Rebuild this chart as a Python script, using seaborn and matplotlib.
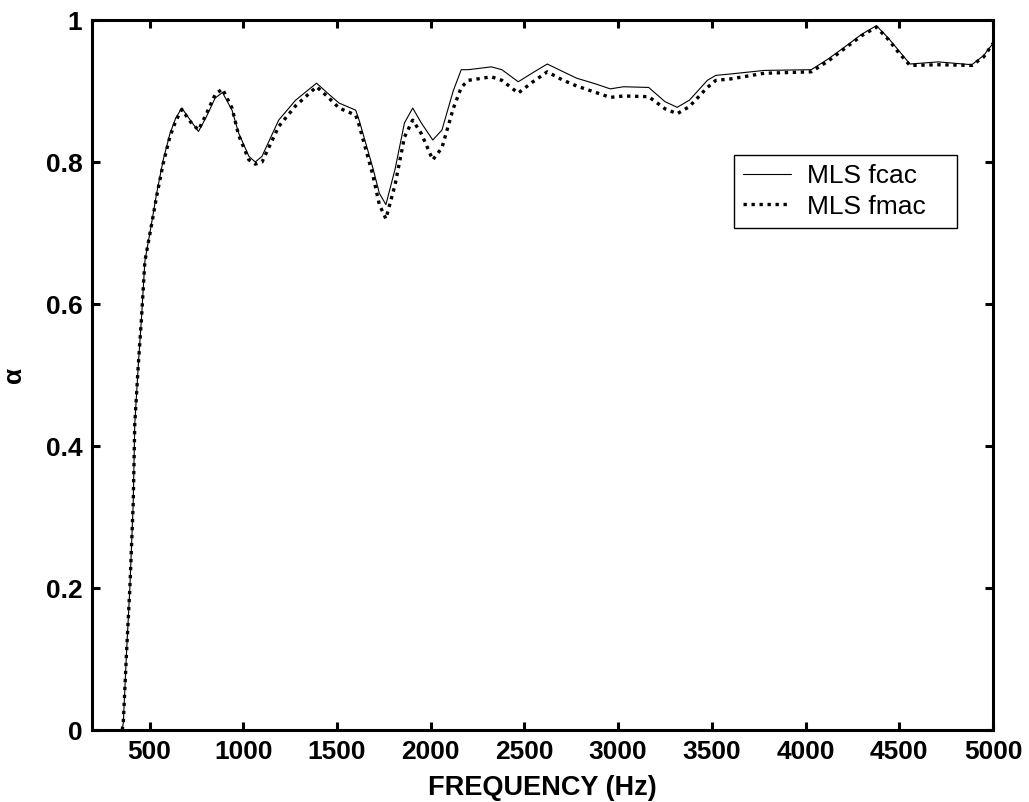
import matplotlib
matplotlib.use("Agg")
import matplotlib.pyplot as plt
import seaborn as sns
import numpy as np
from matplotlib.ticker import FuncFormatter

# ---- data ----
freq = [354, 360, 377, 395, 413, 421, 439, 457, 475, 511,
        538, 573, 609, 640, 672, 720, 761, 800, 850, 889,
        940, 975, 1030, 1064, 1100, 1189, 1279, 1391, 1450, 1511,
        1600, 1618, 1690, 1726, 1761, 1810, 1860, 1904, 1950, 2011,
        2060, 2120, 2163, 2200, 2324, 2380, 2467, 2540, 2622, 2700,
        2779, 2880, 2958, 3029, 3163, 3250, 3315, 3380, 3476, 3521,
        3600, 3780, 4030, 4120, 4209, 4300, 4378, 4440, 4494, 4557,
        4708, 4887, 4950, 5000]

fcac = [0.0, 0.01, 0.108, 0.20, 0.32, 0.43, 0.51, 0.58, 0.66, 0.714,
        0.756, 0.803, 0.840, 0.862, 0.876, 0.858, 0.843, 0.862, 0.890, 0.898,
        0.873, 0.841, 0.808, 0.800, 0.808, 0.859, 0.887, 0.911, 0.897, 0.883,
        0.873, 0.859, 0.793, 0.756, 0.740, 0.790, 0.855, 0.876, 0.855, 0.831,
        0.845, 0.900, 0.930, 0.930, 0.934, 0.930, 0.913, 0.925, 0.938, 0.928,
        0.918, 0.910, 0.903, 0.906, 0.905, 0.885, 0.877, 0.887, 0.915, 0.922,
        0.924, 0.929, 0.930, 0.945, 0.962, 0.980, 0.992, 0.975, 0.958, 0.938,
        0.941, 0.937, 0.950, 0.967]

fmac = [0.0, 0.01, 0.108, 0.20, 0.32, 0.43, 0.51, 0.58, 0.66, 0.712,
        0.752, 0.798, 0.836, 0.858, 0.874, 0.856, 0.845, 0.866, 0.895, 0.903,
        0.876, 0.838, 0.803, 0.797, 0.800, 0.850, 0.879, 0.906, 0.892, 0.876,
        0.866, 0.852, 0.783, 0.740, 0.720, 0.768, 0.835, 0.859, 0.840, 0.803,
        0.820, 0.875, 0.905, 0.915, 0.920, 0.915, 0.897, 0.912, 0.927, 0.916,
        0.907, 0.898, 0.891, 0.893, 0.892, 0.875, 0.868, 0.878, 0.905, 0.915,
        0.917, 0.925, 0.927, 0.942, 0.960, 0.978, 0.990, 0.973, 0.955, 0.936,
        0.937, 0.936, 0.948, 0.967]

labels = ["MLS fcac", "MLS fmac"]
xticks = [500, 1000, 1500, 2000, 2500, 3000, 3500, 4000, 4500, 5000]
yticks = [0, 0.2, 0.4, 0.6, 0.8, 1]

sns.set_style("ticks")
plt.rcParams['font.family'] = ['Liberation Sans', 'DejaVu Sans']
plt.rcParams['text.color'] = 'black'
plt.rcParams['axes.labelcolor'] = 'black'
plt.rcParams['xtick.color'] = 'black'
plt.rcParams['ytick.color'] = 'black'

fig = plt.figure(figsize=(10.29, 8.02), dpi=100)
ax = fig.add_axes([92/1029, 72/802, 901/1029, 710/802])

sns.lineplot(x=freq, y=fcac, ax=ax, color="black", linewidth=0.8,
             label=labels[0], estimator=None, sort=False)
sns.lineplot(x=freq, y=fmac, ax=ax, color="black", linewidth=2.4,
             linestyle=(0, (1, 1.4)), label=labels[1], estimator=None, sort=False)

ax.set_xlim(193, 5000)
ax.set_ylim(0, 1)
ax.set_xticks(xticks)
ax.set_yticks(yticks)
ax.yaxis.set_major_formatter(FuncFormatter(lambda v, p: f"{v:g}"))

for s in ax.spines.values():
    s.set_visible(True)
    s.set_linewidth(2.2)
    s.set_color("black")

ax.tick_params(axis="both", which="major", direction="in", length=6, width=2.2,
               top=True, right=True, labelsize=19, pad=7, colors="black",
               labelcolor="black")
for lab in ax.get_xticklabels() + ax.get_yticklabels():
    lab.set_fontweight("bold")

ax.set_xlabel("FREQUENCY (Hz)", fontsize=19.5, fontweight="bold", labelpad=8,
              color="black")
ax.set_ylabel("α", fontsize=19, fontweight="bold", labelpad=14, color="black")

leg = ax.legend(loc="upper left", bbox_to_anchor=(0.7125, 0.702, 0.2475, 0.108),
                mode="expand", borderaxespad=0, fancybox=False, frameon=True,
                edgecolor="black", framealpha=1, fontsize=19,
                handlelength=1.8, handletextpad=0.6, borderpad=0.35,
                labelspacing=0.25)
leg.get_frame().set_linewidth(1.0)
for t in leg.get_texts():
    t.set_color("black")

fig.savefig("out.png", dpi=100, facecolor="white")
